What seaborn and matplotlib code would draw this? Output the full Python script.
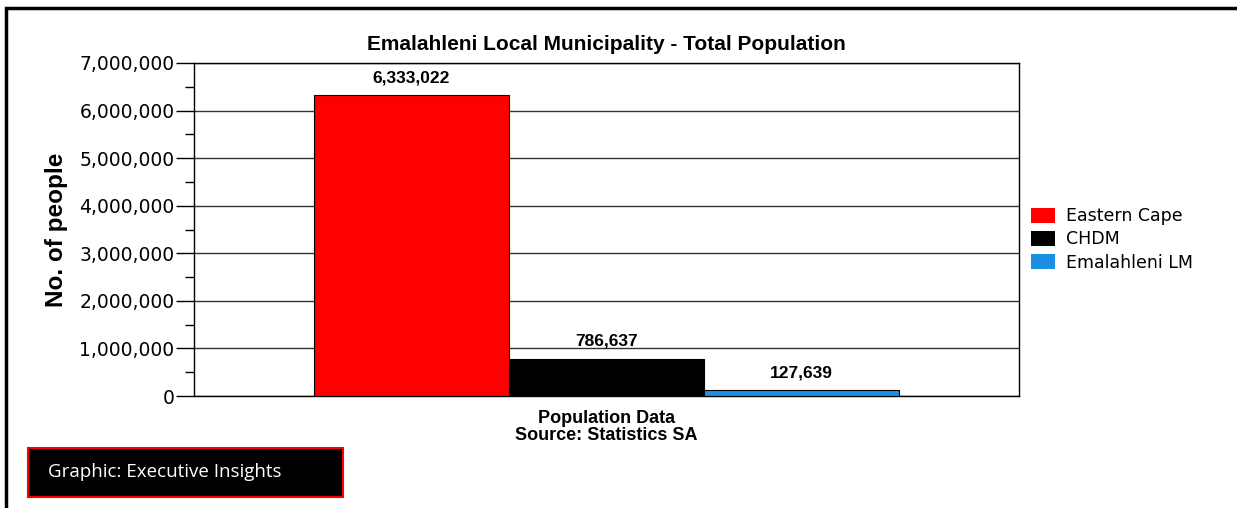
import matplotlib
matplotlib.use("Agg")
import matplotlib.pyplot as plt
import matplotlib.patches as mpatches
import seaborn as sns
import pandas as pd
from matplotlib.ticker import FuncFormatter, MultipleLocator

categories = ["Population Data"]
regions = ["Eastern Cape", "CHDM", "Emalahleni LM"]
values = [6333022, 786637, 127639]
colors = ["#ff0000", "#000000", "#1a8fe3"]

df = pd.DataFrame({"cat": categories * 3, "region": regions, "value": values})

sns.set_theme(style="white")
plt.rcParams["font.family"] = ["DejaVu Sans"]
plt.rcParams["text.color"] = "black"
plt.rcParams["axes.labelcolor"] = "black"
plt.rcParams["xtick.color"] = "black"
plt.rcParams["ytick.color"] = "black"

W, H = 1237, 508
fig = plt.figure(figsize=(W / 100, H / 100), dpi=100)
ax = fig.add_axes([194 / W, 1 - 396 / H, (1019 - 194) / W, (396 - 63) / H])

sns.barplot(data=df, x="cat", y="value", hue="region", hue_order=regions,
            palette=colors, width=0.709, edgecolor="black", linewidth=0.8,
            saturation=1, ax=ax, zorder=3, legend=True)

ax.set_ylim(0, 7000000)
ax.set_xlim(-0.5, 0.5)
ax.yaxis.set_major_locator(MultipleLocator(1000000))
ax.yaxis.set_minor_locator(MultipleLocator(500000))
ax.yaxis.set_major_formatter(FuncFormatter(lambda v, p: f"{int(v):,}"))
ax.tick_params(axis="y", which="major", length=13, width=1, color="black",
               labelsize=13.5, pad=1, left=True, labelcolor="black")
ax.tick_params(axis="y", which="minor", length=6.5, width=1, color="black", left=True)
ax.tick_params(axis="x", length=0, labelbottom=False)
ax.grid(axis="y", which="major", color="#333333", linewidth=1, zorder=0)
ax.set_axisbelow(True)
for s in ax.spines.values():
    s.set_color("black")
    s.set_linewidth(1)
    s.set_visible(True)

ax.set_xlabel("Population Data\nSource: Statistics SA", fontsize=13,
              fontweight="bold", labelpad=10, linespacing=1.0,
              family="Liberation Sans", color="black")
ax.set_ylabel("No. of people", fontsize=17.5, fontweight="bold", labelpad=8,
              family="Liberation Sans", color="black")
ax.set_title("Emalahleni Local Municipality - Total Population", fontsize=15,
             fontweight="bold", pad=9, family="Liberation Sans", color="black")

for cont in ax.containers:
    for bar in cont:
        h = bar.get_height()
        ax.annotate(f"{int(h):,}", (bar.get_x() + bar.get_width() / 2, h),
                    xytext=(0, 7), textcoords="offset points", ha="center",
                    va="bottom", fontsize=12.5, fontweight="bold",
                    family="Liberation Sans", color="black")

leg = ax.legend(loc="center left", bbox_to_anchor=(1.0, 0.47), frameon=False,
                fontsize=12.5, handlelength=1.35, handleheight=0.95,
                handletextpad=0.65, labelspacing=0.3, borderaxespad=0.3)
for t in leg.get_texts():
    t.set_color("black")
for p in leg.get_patches():
    p.set_edgecolor("none")

# outer frame
fig.patches.append(mpatches.Rectangle((6 / W, -0.1), 1.5, 1 - 8 / H + 0.1,
                                      transform=fig.transFigure, fill=False,
                                      edgecolor="black", linewidth=2.5))
# graphic box
fig.patches.append(mpatches.Rectangle((28 / W, 1 - 497 / H), (343 - 28) / W, 49 / H,
                                      transform=fig.transFigure, facecolor="black",
                                      edgecolor="#ff0000", linewidth=1.5))
fig.text(48 / W, 1 - 472 / H, "Graphic: Executive Insights", color="white",
         fontsize=13.5, va="center", ha="left", family="Open Sans")

fig.savefig("out.png", dpi=100)
